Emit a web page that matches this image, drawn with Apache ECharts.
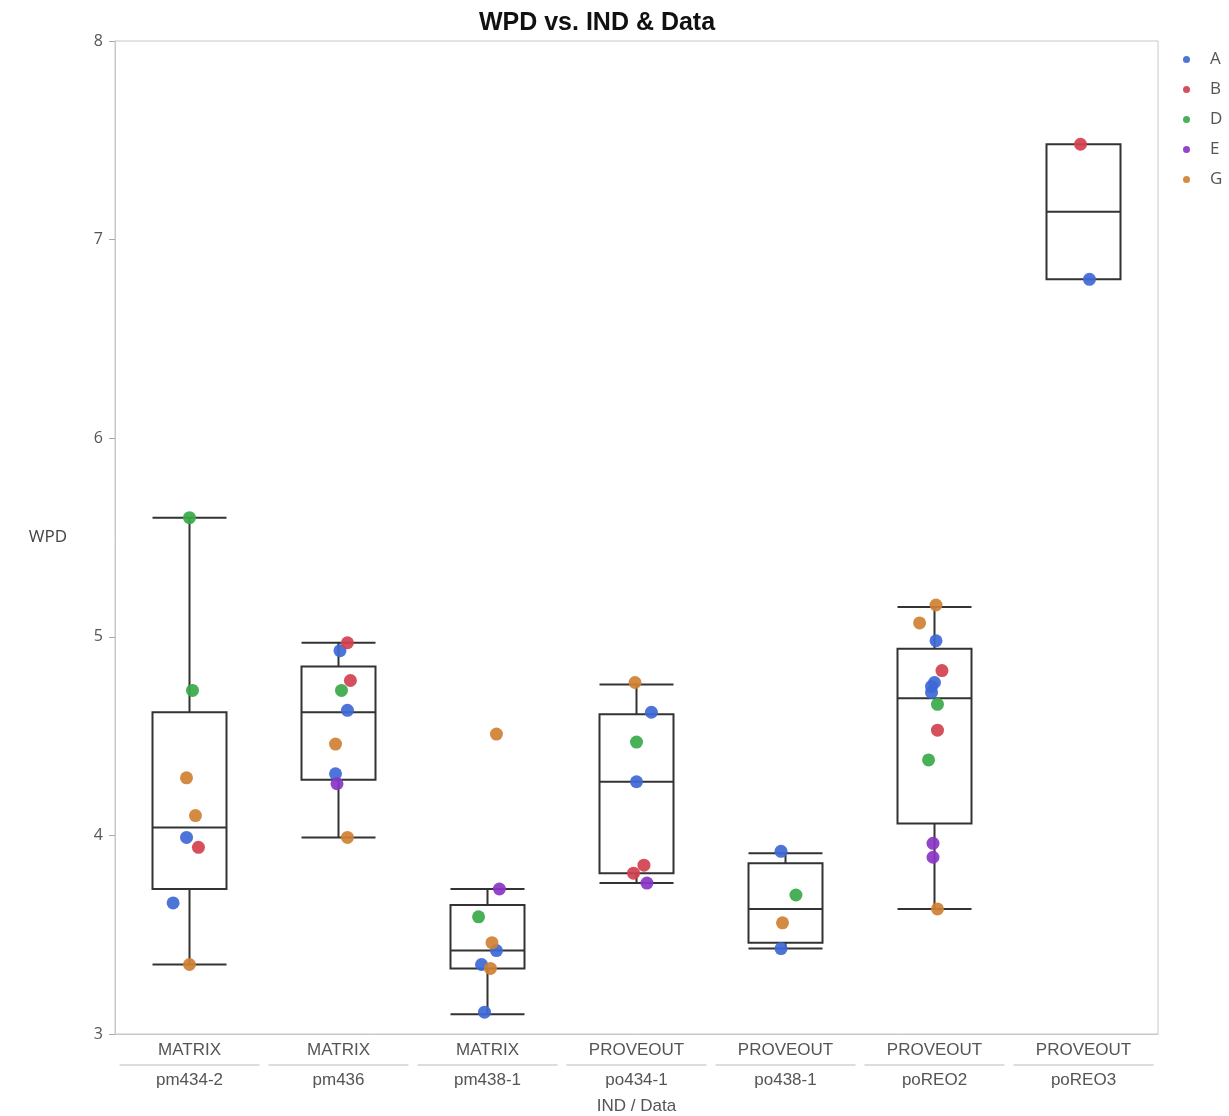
<!DOCTYPE html>
<html>
<head>
<meta charset="utf-8">
<script src="https://cdn.jsdelivr.net/npm/echarts@6/dist/echarts.min.js"></script>
<style>
html,body{margin:0;padding:0;background:#fff;}
#main{width:1229px;height:1116px;}
</style>
</head>
<body>
<div id="main"></div>
<script>
var groups=["MATRIX","MATRIX","MATRIX","PROVEOUT","PROVEOUT","PROVEOUT","PROVEOUT"]
var cats=["pm434-2","pm436","pm438-1","po434-1","po438-1","poREO2","poREO3"]
// min, Q1, median, Q3, max
var boxes=[
	[3.35,3.73,4.04,4.62,5.60],
	[3.99,4.28,4.62,4.85,4.97],
	[3.10,3.33,3.42,3.65,3.73],
	[3.76,3.81,4.27,4.61,4.76],
	[3.43,3.46,3.63,3.86,3.91],
	[3.63,4.06,4.69,4.94,5.15],
	[6.80,6.80,7.14,7.48,7.48]
]
// [category index, jitter, WPD]
var ptsA=[[0,-0.02,3.99],[0,-0.11,3.66],[1,0.01,4.93],[1,0.06,4.63],[1,-0.02,4.31],
	[2,0.06,3.42],[2,-0.04,3.35],[2,-0.02,3.11],[3,0.10,4.62],[3,0,4.27],
	[4,-0.03,3.92],[4,-0.03,3.43],[5,0.01,4.98],[5,0,4.77],[5,-0.02,4.75],[5,-0.02,4.72],[6,0.04,6.80]]
var ptsB=[[0,0.06,3.94],[1,0.06,4.97],[1,0.08,4.78],[3,0.05,3.85],[3,-0.02,3.81],
	[5,0.05,4.83],[5,0.02,4.53],[6,-0.02,7.48]]
var ptsD=[[0,0,5.60],[0,0.02,4.73],[1,0.02,4.73],[2,-0.06,3.59],[3,0,4.47],
	[4,0.07,3.70],[5,0.02,4.66],[5,-0.04,4.38]]
var ptsE=[[1,-0.01,4.26],[2,0.08,3.73],[3,0.07,3.76],[5,-0.01,3.96],[5,-0.01,3.89]]
var ptsG=[[0,-0.02,4.29],[0,0.04,4.10],[0,0,3.35],[1,-0.02,4.46],[1,0.06,3.99],
	[2,0.06,4.51],[2,0.03,3.46],[2,0.02,3.33],[3,-0.01,4.77],[4,-0.02,3.56],
	[5,0.01,5.16],[5,-0.10,5.07],[5,0.02,3.63]]

var names=["A","B","D","E","G"]
var colors=["#3d68d6","#d1404f","#38a948","#8a35c6","#cf8133"]
var pts=[ptsA,ptsB,ptsD,ptsE,ptsG]

var mychart=echarts.init(document.getElementById('main'));
var scatters=[]
for(var i=0;i<names.length;i++){
	scatters.push({
		name:names[i],
		type:"scatter",
		xAxisIndex:1,
		symbolSize:13,
		itemStyle:{color:colors[i],opacity:0.92},
		z:5,
		data:pts[i].map(function(p){return [p[0]+p[1],p[2]]})
	})
}
var option={
	title:{
		text:"WPD vs. IND & Data",
		left:592,
		textAlign:"center",
		top:6,
		textStyle:{fontFamily:"Liberation Sans Narrow, Liberation Sans",fontSize:25,fontWeight:"bold",color:"#111"}
	},
	legend:{
		orient:"vertical",
		left:1178,
		top:46,
		icon:"circle",
		itemWidth:37,
		itemHeight:7,
		itemGap:13,
		data:names,
		textStyle:{color:"#555",fontSize:17,fontFamily:"Open Sans"}
	},
	grid:{left:115,right:71,top:41,bottom:82,show:true,borderColor:"#c8c8c8",borderWidth:1,outerBoundsMode:"none",containLabel:false},
	xAxis:[{
		type:"category",
		data:cats,
		name:"IND / Data",
		nameLocation:"middle",
		nameGap:64,
		nameTextStyle:{color:"#555",fontSize:17,fontFamily:"Liberation Sans Narrow, Liberation Sans"},
		axisLine:{lineStyle:{color:"#c8c8c8"}},
		axisTick:{show:false},
		axisLabel:{
			margin:6,
			interval:0,
			formatter:function(v,idx){return "{a|"+groups[idx]+"}\n{l|}\n{a|"+v+"}"},
			rich:{
				a:{color:"#555",fontSize:17,lineHeight:20,fontFamily:"Liberation Sans Narrow, Liberation Sans"},
				l:{width:140,height:1,lineHeight:10,backgroundColor:"#bbb"}
			}
		}
	},{
		type:"value",
		min:-0.5,
		max:6.5,
		show:false
	}],
	yAxis:{
		type:"value",
		min:3,
		max:8,
		interval:1,
		name:"WPD",
		nameLocation:"middle",
		nameRotate:0,
		nameGap:48,
		nameTextStyle:{color:"#444",fontSize:17,fontFamily:"Open Sans"},
		splitLine:{show:false},
		axisLine:{show:true,onZero:false,lineStyle:{color:"#c8c8c8"}},
		axisTick:{show:true,length:6,lineStyle:{color:"#aaa"}},
		axisLabel:{color:"#555",fontSize:16,margin:12,fontFamily:"Open Sans"}
	},
	series:[{
		type:"boxplot",
		xAxisIndex:0,
		boxWidth:[74,74],
		itemStyle:{color:"rgba(0,0,0,0)",borderColor:"#333",borderWidth:2},
		emphasis:{disabled:true},
		data:boxes,
		z:2
	}].concat(scatters)
};
mychart.setOption(option);
</script>
</body>
</html>
